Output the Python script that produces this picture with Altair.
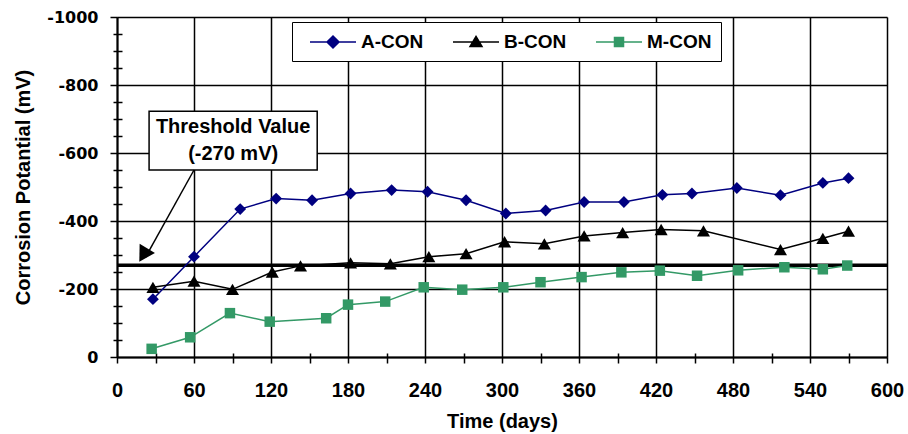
import altair as alt
import pandas as pd

# ---------------- data ----------------
series_names = ["A-CON", "B-CON", "M-CON"]
series_colors = ["#000080", "#000000", "#339966"]

a_days = [28, 60, 96, 124, 152, 182, 214, 242, 272, 303, 334, 364, 395, 425, 448, 483, 517, 550, 570]
a_vals = [-170, -295, -435, -466, -461, -481, -491, -486, -461, -422, -431, -456, -456, -477, -481, -497, -476, -512, -526]

b_days = [28, 60, 90, 121, 143, 182, 213, 243, 272, 302, 333, 364, 394, 424, 457, 517, 550, 570]
b_vals = [-205, -223, -199, -250, -268, -277, -274, -295, -304, -339, -333, -356, -366, -375, -371, -316, -349, -370]

m_days = [27, 57, 88, 119, 163, 180, 209, 239, 269, 301, 330, 362, 393, 423, 452, 484, 520, 550, 569]
m_vals = [-24, -58, -129, -104, -114, -154, -163, -205, -198, -205, -220, -235, -249, -254, -239, -255, -264, -258, -269]

threshold = -270
x_major = [0, 60, 120, 180, 240, 300, 360, 420, 480, 540, 600]
x_minor = [30, 90, 150, 210, 270, 330, 390, 450, 510, 570]
y_major = [0, -200, -400, -600, -800, -1000]
y_minor = [v for v in range(-950, 0, 50) if v % 200 != 0]

rows = []
for name, days, vals in zip(series_names, [a_days, b_days, m_days], [a_vals, b_vals, m_vals]):
    for d, v in zip(days, vals):
        rows.append({"series": name, "day": d, "value": v})
df = pd.DataFrame(rows)

FONT = "Liberation Sans"
x_scale = alt.Scale(domain=[0, 600], nice=False, zero=False)
y_scale = alt.Scale(domain=[0, -1000], nice=False, zero=False)
color_scale = alt.Scale(domain=series_names, range=series_colors)

title_style = dict(titleFont=FONT, titleFontSize=20, titleFontWeight="bold", titleColor="black")

x_axis = alt.Axis(values=x_major, orient="bottom", grid=True, gridColor="black", gridWidth=1.5,
                  tickColor="black", tickWidth=1.5, tickSize=6, domainColor="black", domainWidth=2,
                  labelPadding=17, labelFlush=False, labelFont=FONT, labelFontSize=20,
                  labelFontWeight="bold", labelColor="black",
                  title="Time (days)", titlePadding=11, **title_style)
y_axis = alt.Axis(values=y_major, orient="left", grid=True, gridColor="black", gridWidth=1.5,
                  tickColor="black", tickWidth=1.5, tickSize=7, domainColor="black", domainWidth=2,
                  labelPadding=12, labelFlush=False, labelFont="DejaVu Sans", labelFontSize=16,
                  labelFontWeight="bold", labelColor="black",
                  labelExpr="datum.value == 0 ? '0' : '-' + format(abs(datum.value), 'd')",
                  title="Corrosion Potantial (mV)", titleX=-94, titleY=170, titleAlign="center",
                  titleBaseline="middle", titleAngle=270, **title_style)

x_minor_axis = alt.Axis(values=x_minor, orient="bottom", offset=-4, tickSize=10, tickColor="black",
                        tickWidth=1.5, labels=False, domain=False, grid=False, title="")
y_minor_axis = alt.Axis(values=y_minor, orient="left", offset=-5, tickSize=9, tickColor="black",
                        tickWidth=1.5, labels=False, domain=False, grid=False, title="")

X = lambda ax=None: alt.X("day:Q", scale=x_scale, axis=ax)
Y = lambda ax=None: alt.Y("value:Q", scale=y_scale, axis=ax)

base = alt.Chart(df)

minor = base.mark_point(opacity=0).encode(x=X(x_minor_axis), y=Y(y_minor_axis))

# threshold line
thr = alt.Chart(pd.DataFrame({"value": [threshold]})).mark_rule(color="black", strokeWidth=3.5).encode(
    y=alt.Y("value:Q", scale=y_scale, axis=None))

marker_shapes = ["diamond", "triangle-up", "square"]
marker_sizes = [140, 170, 110]
series_layers = []
for i, (name, col, shp, sz) in enumerate(zip(series_names, series_colors, marker_shapes, marker_sizes)):
    sub = base.transform_filter(alt.datum.series == name)
    if i == 0:
        ln = sub.mark_line(strokeWidth=1.5, color=col).encode(x=X(x_axis), y=Y(y_axis))
    else:
        ln = sub.mark_line(strokeWidth=1.5, color=col).encode(x=X(), y=Y())
    pt = sub.mark_point(shape=shp, filled=True, size=sz, opacity=1, color=col).encode(x=X(), y=Y())
    series_layers += [ln, pt]

legend_paths = [
    "M-2.3,0H2.3M0,-0.6L0.6,0L0,0.6L-0.6,0Z",
    "M-2.3,0H2.3M0,-0.55L0.6,0.45L-0.6,0.45Z",
    "M-2.3,0H2.3M-0.45,-0.45H0.45V0.45H-0.45Z",
]
legend_kw = dict(orient="none", legendX=175, legendY=5, direction="horizontal", title=None,
                 fillColor="white", strokeColor="black", padding=9, symbolSize=400,
                 symbolOffset=21, labelOffset=17, columnPadding=20, symbolStrokeWidth=1.5,
                 labelFont=FONT, labelFontSize=19, labelFontWeight="bold", labelColor="black")
legend_layer = base.transform_filter("false").mark_point(opacity=1, strokeWidth=1.5).encode(
    x=X(), y=Y(),
    fill=alt.Fill("series:N", scale=color_scale, legend=alt.Legend(**legend_kw)),
    stroke=alt.Stroke("series:N", scale=color_scale, legend=alt.Legend(**legend_kw)),
    shape=alt.Shape("series:N", scale=alt.Scale(domain=series_names, range=legend_paths),
                    legend=alt.Legend(**legend_kw)),
)

# annotation
box = alt.Chart(pd.DataFrame({"x1": [25], "x2": [156], "y1": [-723], "y2": [-550]})).mark_rect(
    fill="white", stroke="black", strokeWidth=1.5).encode(
    x=alt.X("x1:Q", scale=x_scale, axis=None), x2="x2:Q",
    y=alt.Y("y1:Q", scale=y_scale, axis=None), y2="y2:Q")
ann_text = alt.Chart(pd.DataFrame({"x": [90.5, 90.5], "y": [-677, -597],
                                   "t": ["Threshold Value", "(-270 mV)"]})).mark_text(
    font=FONT, fontSize=20, fontWeight="bold", color="black", baseline="middle", align="center").encode(
    x=alt.X("x:Q", scale=x_scale, axis=None), y=alt.Y("y:Q", scale=y_scale, axis=None), text="t:N")
arrow = alt.Chart(pd.DataFrame({"x1": [60], "x2": [22], "y1": [-550], "y2": [-292]})).mark_rule(
    color="black", strokeWidth=1.5).encode(
    x=alt.X("x1:Q", scale=x_scale, axis=None), x2="x2:Q",
    y=alt.Y("y1:Q", scale=y_scale, axis=None), y2="y2:Q")
head = alt.Chart(pd.DataFrame({"x": [20.5], "y": [-300]})).mark_point(
    shape="triangle-up", filled=True, size=320, angle=211, color="black", opacity=1).encode(
    x=alt.X("x:Q", scale=x_scale, axis=None), y=alt.Y("y:Q", scale=y_scale, axis=None))

chart = alt.layer(minor, thr, *series_layers, legend_layer, box, ann_text, arrow, head).resolve_axis(
    x="independent", y="independent"
).properties(
    width=770, height=340, autosize="none",
    padding={"left": 117, "top": 17, "right": 21, "bottom": 77},
).configure_view(stroke="black", strokeWidth=2).configure(background="white")

chart.save("out.html", embed_options={"renderer": "svg", "actions": False})
